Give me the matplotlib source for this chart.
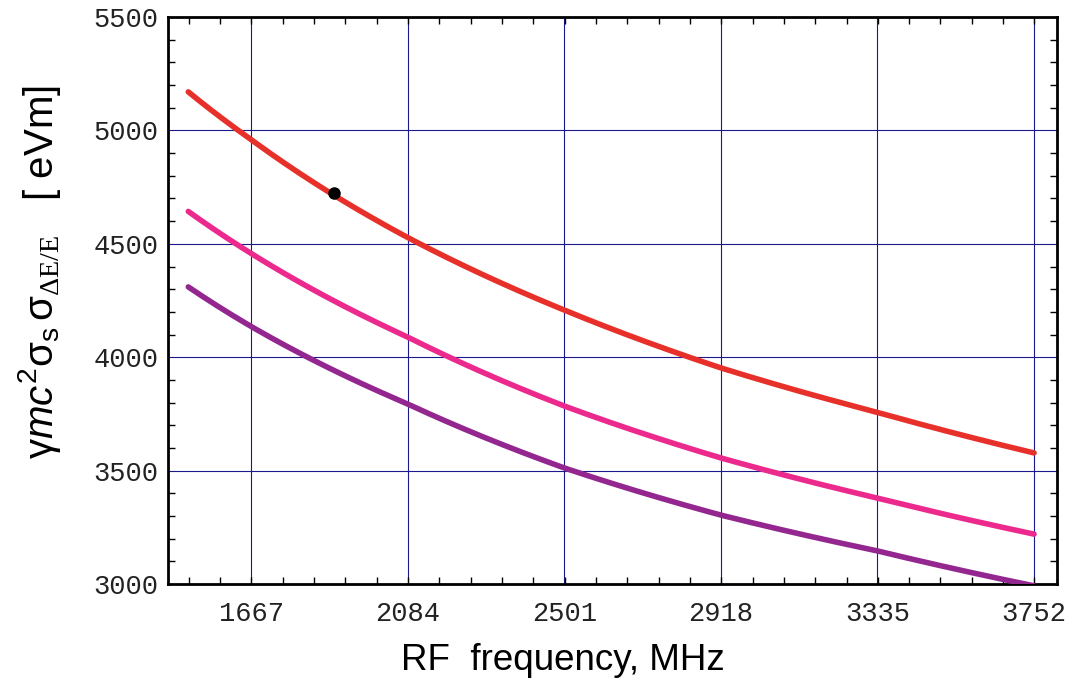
import numpy as np
import matplotlib.pyplot as plt
from matplotlib.ticker import MultipleLocator, FixedLocator

plt.rcParams['mathtext.fontset'] = 'custom'
plt.rcParams['mathtext.rm'] = 'Liberation Sans'
plt.rcParams['mathtext.it'] = 'Liberation Sans:italic'
plt.rcParams['mathtext.sf'] = 'Liberation Serif'

# data (MHz, eVm)
freq = [1500, 1667, 2084, 2501, 2918, 3335, 3752]
red = [5170, 4960, 4528, 4208, 3953, 3757, 3578]
pink = [4643, 4458, 4089, 3785, 3556, 3379, 3220]
purple = [4310, 4136, 3794, 3512, 3304, 3146, 2992]
dot_f, dot_v = 1888, 4724

xticks = [1667, 2084, 2501, 2918, 3335, 3752]
yticks = [3000, 3500, 4000, 4500, 5000, 5500]

fig = plt.figure(figsize=(10.77, 6.81), dpi=100)
ax = fig.add_axes([0.156, 0.1424, 0.8254, 0.8326])

# smooth curve through the read points (interp in log-log space)
def smooth(f, v):
    ff = np.linspace(f[0], f[-1], 300)
    vv = np.exp(np.interp(np.log(ff), np.log(f), np.log(v)))
    return ff, vv

for vals, col in [(red, '#e8302a'), (pink, '#ec2a8e'), (purple, '#93278f')]:
    ff, vv = smooth(freq, vals)
    ax.plot(ff, vv, color=col, lw=4, solid_capstyle='round', zorder=3)
ax.plot([dot_f], [dot_v], 'o', color='black', ms=8, zorder=4)

ax.set_xlim(1446, 3813)
ax.set_ylim(3000, 5500)
ax.xaxis.set_major_locator(FixedLocator(xticks))
ax.xaxis.set_minor_locator(MultipleLocator(417 / 5))
ax.yaxis.set_major_locator(FixedLocator(yticks))
ax.yaxis.set_minor_locator(MultipleLocator(100))
ax.grid(True, which='major', color='#1a1a8c', lw=0.8)
ax.tick_params(which='both', direction='in', top=True, right=True)
ax.tick_params(which='major', length=0, labelsize=19.5, labelcolor='#222222')
ax.tick_params(axis='x', pad=12)
ax.tick_params(axis='y', pad=7)
ax.tick_params(which='minor', length=5, width=1)
for lab in ax.get_xticklabels() + ax.get_yticklabels():
    lab.set_family('Liberation Mono')
for s in ax.spines.values():
    s.set_linewidth(2)

ax.set_xlabel('RF  frequency, MHz', fontsize=26.5, family='Liberation Sans')
ax.xaxis.set_label_coords(0.444, -0.104)
ax.set_ylabel(r'$\mathrm{\gamma} mc^2\mathrm{\sigma}_{\rm s}\,\mathrm{\sigma}_{\mathsf{\Delta E/E}}$   [ eVm]',
              fontsize=29, family='Liberation Sans')
ax.yaxis.set_label_coords(-0.118, 0.551)

fig.savefig('out.png', dpi=100)
